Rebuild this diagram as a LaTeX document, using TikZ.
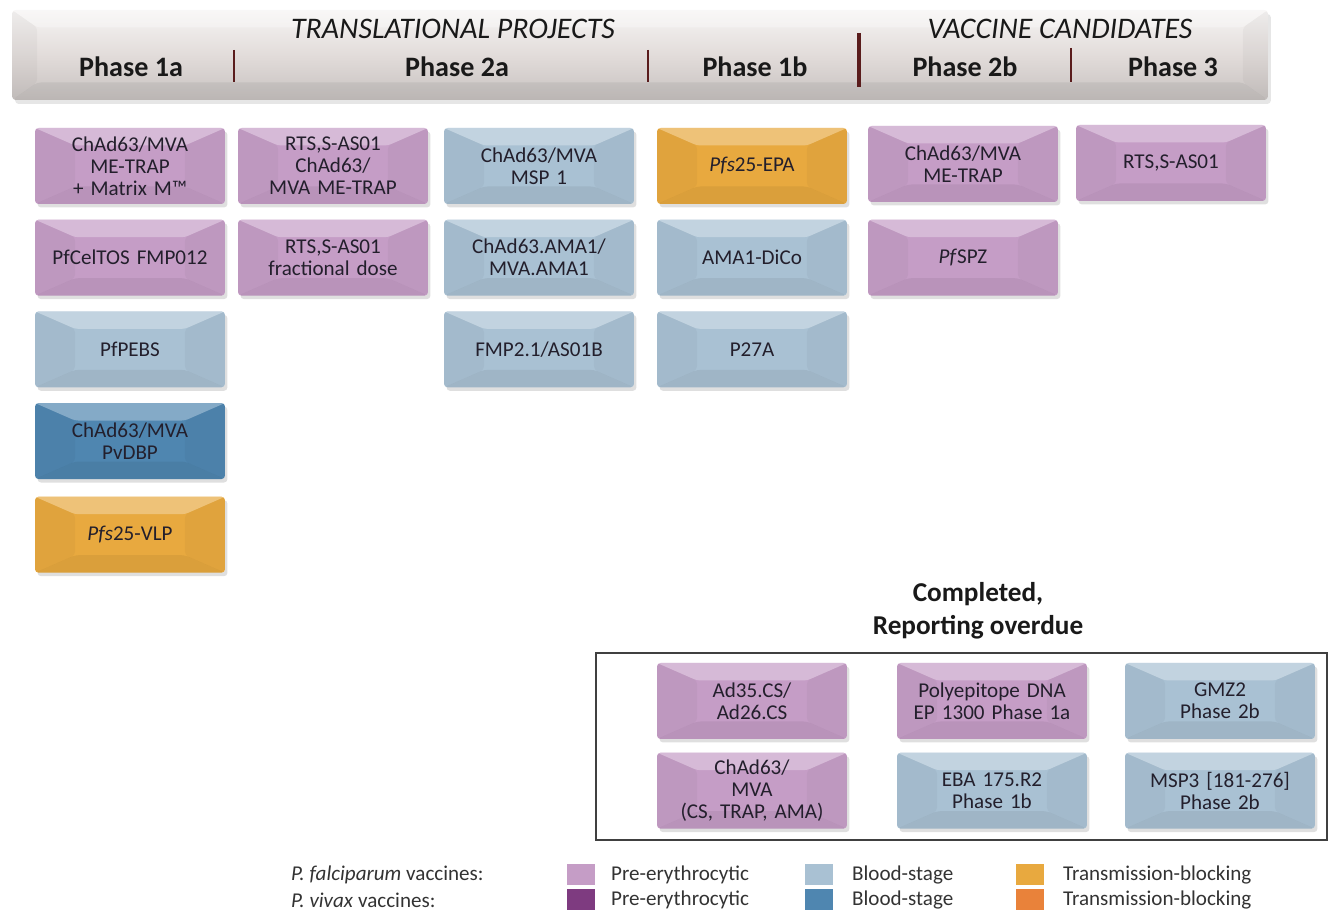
\documentclass[tikz,border=0pt]{standalone}
\usepackage{fontspec}
\setmainfont{Carlito}
\usetikzlibrary{positioning,shadows}

\definecolor{pfpre}{HTML}{C59DC6}
\definecolor{pfblood}{HTML}{A9C1D3}
\definecolor{pftrans}{HTML}{E8A93F}
\definecolor{pvpre}{HTML}{7E3B80}
\definecolor{pvblood}{HTML}{4F86B0}
\definecolor{pvtrans}{HTML}{E9823A}
\definecolor{txt}{HTML}{231F2C}
\definecolor{sepline}{HTML}{5A1C1C}
\definecolor{barfill}{HTML}{E2DCDA}

\tikzset{
  bevel/.style={path picture={
    \fill[white,opacity=.3] (path picture bounding box.north west) -- (path picture bounding box.north east)
      -- ([shift={(-#1,-3.5mm)}]path picture bounding box.north east) -- ([shift={(#1,-3.5mm)}]path picture bounding box.north west) -- cycle;
    \fill[black,opacity=.06] (path picture bounding box.south west) -- (path picture bounding box.south east)
      -- ([shift={(-#1,3.5mm)}]path picture bounding box.south east) -- ([shift={(#1,3.5mm)}]path picture bounding box.south west) -- cycle;
    \fill[black,opacity=.03] (path picture bounding box.north east) -- ([shift={(-#1,-3.5mm)}]path picture bounding box.north east)
      -- ([shift={(-#1,3.5mm)}]path picture bounding box.south east) -- (path picture bounding box.south east) -- cycle;
    \fill[black,opacity=.03] (path picture bounding box.north west) -- ([shift={(#1,-3.5mm)}]path picture bounding box.north west)
      -- ([shift={(#1,3.5mm)}]path picture bounding box.south west) -- (path picture bounding box.south west) -- cycle;
  }},
  bevel/.default=8mm
}

\begin{document}
\begin{tikzpicture}[x=0.02cm, y=0.02cm,
    vacc/.style={rounded corners=2pt, fill=#1, minimum width=3.8cm, minimum height=1.52cm,
      text width=3.5cm, align=center, text=txt, font=\fontsize{12}{12.6}\selectfont,
      drop shadow={opacity=.25, shadow xshift=.5mm, shadow yshift=-.7mm}, bevel},
    phase/.style={text=black!90, font=\fontsize{16}{18}\selectfont\bfseries},
    group/.style={text=black!90, font=\fontsize{17}{19}\selectfont\itshape},
    sep/.style={sepline, line width=1.2pt},
    legsq/.style={fill=#1, minimum width=.56cm, minimum height=.42cm, inner sep=0pt},
    legtxt/.style={anchor=west, inner sep=1pt, text=black!80, font=\fontsize{12}{14}\selectfont}]
\useasboundingbox (0,0) rectangle (1340,915);

%%%%%%%%%%%%%%%%% header
\node[rounded corners=2pt, top color=white!70!barfill, bottom color=barfill!88!black, middle color=barfill,
  minimum width=25.12cm, minimum height=1.8cm, drop shadow={opacity=.2, shadow xshift=.6mm, shadow yshift=-.8mm}, bevel=5mm] (bar) at (640,860) {};
\node[group] (trans) at (453,886) {TRANSLATIONAL PROJECTS};
\node[group] (cand) at (1060,886) {VACCINE CANDIDATES};
\node[phase] (ph1a) at (131,848) {Phase 1a};
\node[phase] (ph2a) at (457,848) {Phase 2a};
\node[phase] (ph1b) at (755,848) {Phase 1b};
\node[phase] (ph2b) at (965,848) {Phase 2b};
\node[phase] (ph3) at (1173,848) {Phase 3};
\draw[sep] (234,865) -- (234,833);
\draw[sep] (648,865) -- (648,833);
\draw[sep, line width=2.6pt] (859,882) -- (859,828);
\draw[sep] (1071,867) -- (1071,833);

%%%%%%%%%%%%%%%%% Phase 1a
\node[vacc=pfpre] (pa1) at (130,749) {ChAd63/MVA\\ME-TRAP\\+ Matrix M\texttrademark};
\node[vacc=pfpre, below=.3cm of pa1] (pa2) {PfCelTOS FMP012};
\node[vacc=pfblood, below=.3cm of pa2] (pa3) {PfPEBS};
\node[vacc=pvblood, below=.3cm of pa3] (pa4) {ChAd63/MVA\\PvDBP};
\node[vacc=pftrans, below=.34cm of pa4] (pa5) {\textit{Pfs}25-VLP};

%%%%%%%%%%%%%%%%% Phase 2a
\node[vacc=pfpre] (pb1) at (333,749) {RTS,S-AS01\\ChAd63/\\MVA ME-TRAP};
\node[vacc=pfpre, below=.3cm of pb1] (pb2) {RTS,S-AS01\\fractional dose};
\node[vacc=pfblood] (pc1) at (539,749) {ChAd63/MVA\\MSP 1};
\node[vacc=pfblood, below=.3cm of pc1] (pc2) {ChAd63.AMA1/\\MVA.AMA1};
\node[vacc=pfblood, below=.3cm of pc2] (pc3) {FMP2.1/AS01B};

%%%%%%%%%%%%%%%%% Phase 1b
\node[vacc=pftrans] (pd1) at (752,749) {\textit{Pfs}25-EPA};
\node[vacc=pfblood, below=.3cm of pd1] (pd2) {AMA1-DiCo};
\node[vacc=pfblood, below=.3cm of pd2] (pd3) {P27A};

%%%%%%%%%%%%%%%%% Phase 2b / Phase 3
\node[vacc=pfpre] (pe1) at (963,751) {ChAd63/MVA\\ME-TRAP};
\node[vacc=pfpre, below=.34cm of pe1] (pe2) {\textit{Pf}SPZ};
\node[vacc=pfpre] (pf1) at (1171,752) {RTS,S-AS01};

%%%%%%%%%%%%%%%%% Completed
\node[text=black!90, align=center, font=\fontsize{15.5}{18.5}\selectfont\bfseries] (done) at (978,304) {Completed,\\Reporting overdue};
\draw[black!75, line width=.7pt] (596,262) rectangle (1327,75);
\node[vacc=pfpre] (done1) at (752,214) {Ad35.CS/\\Ad26.CS};
\node[vacc=pfpre] (done2) at (992,214) {Polyepitope DNA\\EP 1300 Phase 1a};
\node[vacc=pfblood] (done3) at (1220,214) {GMZ2\\Phase 2b};
\node[vacc=pfpre, below=.26cm of done1] (done4) {ChAd63/\\MVA\\(CS, TRAP, AMA)};
\node[vacc=pfblood, below=.26cm of done2] (done5) {EBA 175.R2\\Phase 1b};
\node[vacc=pfblood, below=.26cm of done3] (done6) {MSP3 [181-276]\\Phase 2b};

%%%%%%%%%%%%%%%%% legend
\node[legtxt] (pfl) at (289,40) {\textit{P. falciparum} vaccines:};
\node[legtxt] (pvl) at (289,15) {\textit{P. vivax} vaccines:};
\node[legsq=pfpre] (sq1) at (581,40) {};
\node[legsq=pvpre] (sq2) at (581,15) {};
\node[legsq=pfblood] (sq3) at (819,40) {};
\node[legsq=pvblood] (sq4) at (819,15) {};
\node[legsq=pftrans] (sq5) at (1030,40) {};
\node[legsq=pvtrans] (sq6) at (1030,15) {};
\node[legtxt] (l1) at (609,40) {Pre-erythrocytic};
\node[legtxt] (l2) at (609,15) {Pre-erythrocytic};
\node[legtxt] (l3) at (850,40) {Blood-stage};
\node[legtxt] (l4) at (850,15) {Blood-stage};
\node[legtxt] (l5) at (1061,40) {Transmission-blocking};
\node[legtxt] (l6) at (1061,15) {Transmission-blocking};
\end{tikzpicture}
\end{document}
